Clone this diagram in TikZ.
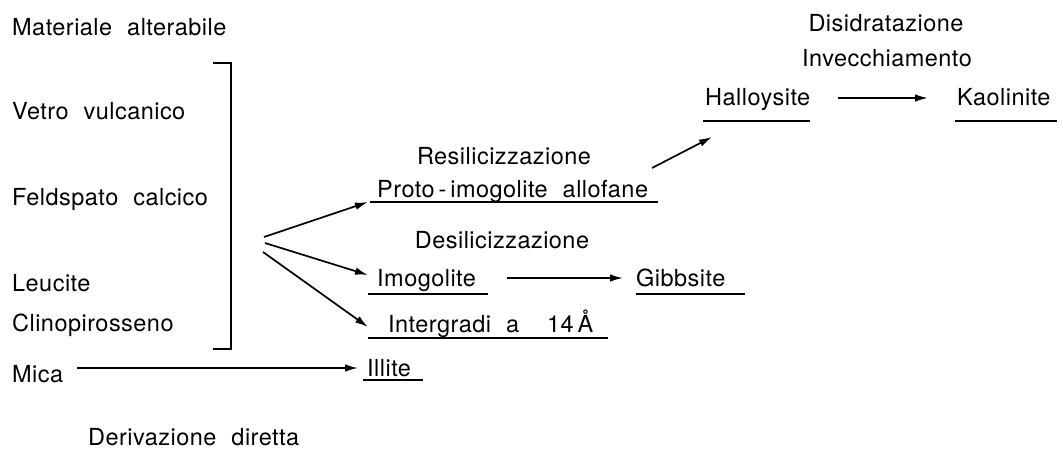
\documentclass[tikz,border=0pt]{standalone}
\usepackage{fontspec}
\setmainfont{TeX Gyre Heros}[LetterSpace=2]
\usetikzlibrary{arrows.meta}
\newcommand{\ws}{\hspace{15pt}}
\begin{document}
\begin{tikzpicture}[x=1pt,y=-1pt,
  lbl/.style={inner sep=0pt, font=\fontsize{23.5}{28}\selectfont},
  arr/.style={line width=1.7pt, -{Latex[length=13pt,width=7.5pt]}},
  uline/.style={line width=1.9pt},
  brk/.style={line width=1.9pt}]
\useasboundingbox (0,0) rectangle (1063,448);
% left column
\node[lbl,anchor=base west] (mat) at (12,35) {Materiale\ws alterabile};
\node[lbl,anchor=base west] (vetro) at (12,119) {Vetro\ws vulcanico};
\node[lbl,anchor=base west] (feld) at (12,205) {Feldspato\ws calcico};
\node[lbl,anchor=base west] (leu) at (12,291) {Leucite};
\node[lbl,anchor=base west] (clino) at (12,331) {Clinopirosseno};
\node[lbl,anchor=base west] (mica) at (12,382) {Mica};
\node[lbl,anchor=base west] (deriv) at (88,445) {Derivazione\ws diretta};
% bracket
\draw[brk] (213,63) -- (231,63) -- (231,349) -- (213,349);
% right part
\node[lbl,anchor=base] (resil) at (504,164) {Resilicizzazione};
\node[lbl,anchor=base west] (proto) at (377,197) {Proto\,-\,imogolite\ws allofane};
\node[lbl,anchor=base] (desil) at (502,248) {Desilicizzazione};
\node[lbl,anchor=base west] (imo) at (377,286) {Imogolite};
\node[lbl,anchor=base west] (gib) at (636,286) {Gibbsite};
\node[lbl,anchor=base west] (inter) at (388,332) {Intergradi\ws a\hspace{28pt}14\,Å};
\node[lbl,anchor=base west] (illite) at (367,376) {Illite};
\node[lbl,anchor=base] (disid) at (886,31) {Disidratazione};
\node[lbl,anchor=base] (invec) at (887,66) {Invecchiamento};
\node[lbl,anchor=base west] (hallo) at (705,105) {Halloysite};
\node[lbl,anchor=base west] (kaol) at (957,105) {Kaolinite};
% underlines
\draw[uline] (370,202) -- (658,202);
\draw[uline] (368,294) -- (488,294);
\draw[uline] (636,294) -- (745,294);
\draw[uline] (368,338) -- (608,338);
\draw[uline] (363,380) -- (423,380);
\draw[uline] (703,121) -- (810,121);
\draw[uline] (955,121) -- (1057,121);
% arrow end points
\coordinate (f1) at (264,237);
\coordinate (f2) at (265,243);
\coordinate (f3) at (263,252);
\coordinate (t1) at (368,202);
\coordinate (t2) at (368,275);
\coordinate (t3) at (368,327);
\coordinate (m1) at (77,368);
\coordinate (m2) at (358,368);
\coordinate (i1) at (507,278);
\coordinate (i2) at (623,278);
\coordinate (h1) at (838,98);
\coordinate (h2) at (928,98);
\coordinate (p1) at (652,168);
\coordinate (p2) at (712,137);
\draw[arr] (f1) -- (t1);
\draw[arr] (f2) -- (t2);
\draw[arr] (f3) -- (t3);
\draw[arr] (m1) -- (m2);
\draw[arr] (i1) -- (i2);
\draw[arr] (h1) -- (h2);
\draw[arr] (p1) -- (p2);
\end{tikzpicture}
\end{document}
